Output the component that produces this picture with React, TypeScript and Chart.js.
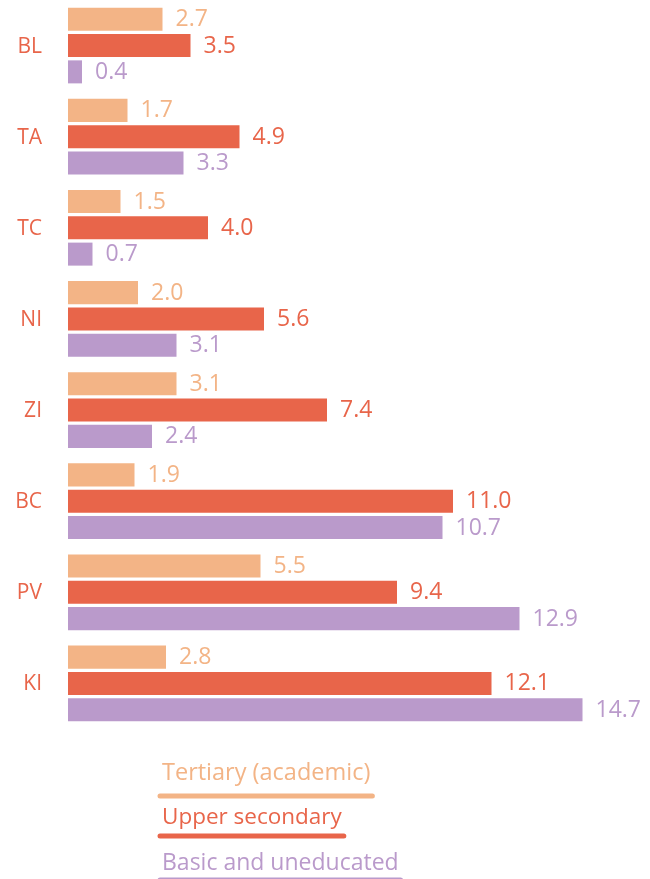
import React, { useEffect, useRef } from "react";
import { Chart, registerables } from "chart.js";

Chart.register(...registerables);

const categories = ["BL", "TA", "TC", "NI", "ZI", "BC", "PV", "KI"];
const tertiary = [2.7, 1.7, 1.5, 2.0, 3.1, 1.9, 5.5, 2.8];
const upperSecondary = [3.5, 4.9, 4.0, 5.6, 7.4, 11.0, 9.4, 12.1];
const basic = [0.4, 3.3, 0.7, 3.1, 2.4, 10.7, 12.9, 14.7];
const seriesNames = ["Tertiary (academic)", "Upper secondary", "Basic and uneducated"];
const colors = ["#F3B486", "#E8654A", "#BA9ACB"];

const FONT = "'Open Sans', 'Noto Sans', sans-serif";

export default function App() {
  const ref = useRef<HTMLCanvasElement | null>(null);
  useEffect(() => {
    if (!ref.current) return;
    const labelsPlugin = {
      id: "labelsPlugin",
      afterDatasetsDraw(chart: any) {
        const ctx = chart.ctx;
        ctx.save();
        ctx.textBaseline = "middle";
        ctx.font = `23px ${FONT}`;
        ctx.textAlign = "left";
        chart.data.datasets.forEach((ds: any, di: number) => {
          const meta = chart.getDatasetMeta(di);
          meta.data.forEach((bar: any, i: number) => {
            ctx.fillStyle = colors[di];
            ctx.fillText(Number(ds.data[i]).toFixed(1), bar.x + 13, bar.y + 0.5);
          });
        });
        const yScale = chart.scales.y;
        ctx.font = `21px ${FONT}`;
        ctx.textAlign = "right";
        ctx.fillStyle = colors[1];
        categories.forEach((c, i) => {
          ctx.fillText(c, yScale.right - 26, yScale.getPixelForValue(i) + 1);
        });
        ctx.restore();
      },
    };
    const legendPlugin = {
      id: "customLegend",
      afterDraw(chart: any) {
        const ctx = chart.ctx;
        ctx.save();
        ctx.textAlign = "left";
        ctx.textBaseline = "alphabetic";
        const sizes = [23.5, 22.5, 23];
        const baselines = [780, 824, 870];
        const lines = [796, 836, 880];
        seriesNames.forEach((name, i) => {
          ctx.font = `${sizes[i]}px ${FONT}`;
          ctx.fillStyle = colors[i];
          ctx.fillText(name, 162, baselines[i]);
          const w = ctx.measureText(name).width;
          ctx.strokeStyle = colors[i];
          ctx.lineWidth = 5;
          ctx.lineCap = "round";
          ctx.beginPath();
          ctx.moveTo(160, lines[i]);
          ctx.lineTo(164 + w, lines[i]);
          ctx.stroke();
        });
        ctx.restore();
      },
    };
    const chart = new Chart(ref.current, {
      type: "bar",
      data: {
        labels: categories,
        datasets: [
          { label: seriesNames[0], data: tertiary, backgroundColor: colors[0] },
          { label: seriesNames[1], data: upperSecondary, backgroundColor: colors[1] },
          { label: seriesNames[2], data: basic, backgroundColor: colors[2] },
        ],
      },
      options: {
        indexAxis: "y",
        animation: false,
        responsive: false,
        maintainAspectRatio: false,
        categoryPercentage: 0.866,
        barPercentage: 0.875,
        layout: { padding: { top: 0, bottom: 150, left: 0, right: 22 } },
        plugins: { legend: { display: false }, tooltip: { enabled: false } },
        scales: {
          x: { display: false, min: 0, max: 16 },
          y: {
            afterFit: (s: any) => {
              s.width = 68;
              s.paddingTop = 0;
              s.paddingBottom = 0;
            },
            grid: { display: false, drawTicks: false },
            border: { display: false },
            ticks: { display: false },
          },
        },
      },
      plugins: [labelsPlugin, legendPlugin],
    } as any);
    return () => chart.destroy();
  }, []);
  return (
    <div style={{ position: "absolute", left: 0, top: 0, width: 650, height: 879 }}>
      <canvas ref={ref} width={650} height={879} />
    </div>
  );
}
